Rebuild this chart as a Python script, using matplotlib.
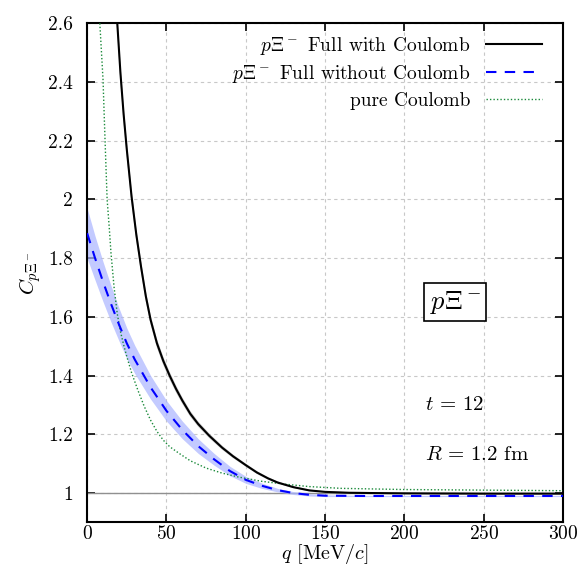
import numpy as np
import matplotlib
matplotlib.use('Agg')
import matplotlib.pyplot as plt

plt.rcParams['font.family'] = 'serif'
plt.rcParams['font.serif'] = ['cmr10', 'DejaVu Serif']
plt.rcParams['mathtext.fontset'] = 'cm'
plt.rcParams['axes.formatter.use_mathtext'] = True

''' full with Coulomb (black, grey band) '''
q_full = [15, 17, 19, 21, 23, 25, 28, 31, 34, 37, 40, 44, 48, 52, 56, 60, 65, 70, 77, 85, 92, 100,
          107, 114, 120, 130, 140, 150, 165, 180, 200, 250, 300]
c_full = [3.05, 2.80, 2.60, 2.43, 2.29, 2.17, 2.01, 1.88, 1.77, 1.67, 1.59, 1.51, 1.45, 1.40, 1.355, 1.315,
          1.27, 1.235, 1.195, 1.155, 1.125, 1.095, 1.07, 1.05, 1.036, 1.02, 1.009, 1.004, 1.001, 1.0,
          0.999, 0.998, 0.998]
w_full = [0.04, 0.037, 0.034, 0.031, 0.029, 0.027, 0.024, 0.022, 0.02, 0.018, 0.016, 0.015, 0.014, 0.013,
          0.012, 0.011, 0.01, 0.009, 0.008, 0.007, 0.006, 0.005, 0.005, 0.004, 0.004, 0.003, 0.003, 0.002,
          0.002, 0.002, 0.002, 0.002, 0.002]

''' full without Coulomb (blue dashed, blue band) '''
q_noc = [0, 5, 10, 15, 20, 25, 30, 40, 50, 60, 70, 80, 90, 100, 110, 120, 130, 140, 150, 175, 200, 250, 300]
c_noc = [1.885, 1.80, 1.72, 1.645, 1.575, 1.51, 1.455, 1.36, 1.28, 1.215, 1.16, 1.115, 1.075, 1.045, 1.025,
         1.01, 1.0, 0.994, 0.991, 0.99, 0.99, 0.99, 0.99]
w_noc = [0.085, 0.075, 0.068, 0.062, 0.056, 0.052, 0.048, 0.04, 0.035, 0.03, 0.025, 0.02, 0.016, 0.012,
         0.009, 0.006, 0.005, 0.004, 0.003, 0.002, 0.002, 0.002, 0.002]

''' pure Coulomb (green dotted) '''
q_coul = [6, 8, 10, 11.3, 12.6, 14, 15, 17, 19, 21, 23, 25, 28, 32, 36, 40, 44, 48, 52, 58, 65, 75, 85, 95,
          110, 125, 140, 160, 200, 250, 300]
c_coul = [3.0, 2.6, 2.41, 2.2, 2.0, 1.9, 1.82, 1.7, 1.61, 1.55, 1.505, 1.465, 1.41, 1.35, 1.295, 1.248,
          1.21, 1.18, 1.158, 1.135, 1.11, 1.085, 1.068, 1.055, 1.04, 1.03, 1.022, 1.016, 1.012, 1.01, 1.008]

xticks = [0, 50, 100, 150, 200, 250, 300]
yticks = [1, 1.2, 1.4, 1.6, 1.8, 2, 2.2, 2.4, 2.6]
yticklabels = ['1', '1.2', '1.4', '1.6', '1.8', '2', '2.2', '2.4', '2.6']

q_full, c_full, w_full = np.array(q_full), np.array(c_full), np.array(w_full)
q_noc, c_noc, w_noc = np.array(q_noc), np.array(c_noc), np.array(w_noc)

fig = plt.figure(figsize=(5.77, 5.66), dpi=100)
ax = fig.add_axes([0.151, 0.077, 0.825, 0.882])

ax.grid(True, color='#c8c8c8', linestyle=(0, (3, 3)), linewidth=0.8)
ax.set_axisbelow(True)
ax.axhline(1.0, color='#909090', linewidth=1.0, zorder=1)

ax.fill_between(q_full, c_full - w_full, c_full + w_full, color='#a0a0a0', alpha=0.6, linewidth=0, zorder=2)
ax.fill_between(q_noc, c_noc - w_noc, c_noc + w_noc, color='#aab4ff', alpha=0.7, linewidth=0, zorder=2)

ax.plot(q_full, c_full, color='black', linewidth=1.5, label=r'$p\Xi^-$ Full with Coulomb', zorder=4)
ax.plot(q_noc, c_noc, color='blue', linestyle=(0, (5, 4)), linewidth=1.5,
        label=r'$p\Xi^-$ Full without Coulomb', zorder=4)
ax.plot(q_coul, c_coul, color='#1a8a3a', linestyle=(0, (1, 1.5)), linewidth=1.0, label='pure Coulomb', zorder=3)

ax.set_xlim(0, 300)
ax.set_ylim(0.9, 2.6)
ax.set_xticks(xticks)
ax.set_yticks(yticks)
ax.set_yticklabels(yticklabels)
ax.tick_params(direction='in', top=True, right=True, length=6, width=1.2, labelsize=14, colors='black')
ax.tick_params(axis='x', pad=2)
ax.tick_params(axis='y', pad=10)
for s in ax.spines.values():
    s.set_linewidth(1.5)

ax.set_xlabel(r'$q$ [MeV/$c$]', fontsize=14.5, labelpad=-1)
ax.set_ylabel(r'$C_{p\Xi^-}$', fontsize=15, labelpad=4)

leg = ax.legend(loc='upper right', bbox_to_anchor=(0.98, 1.0), markerfirst=False, frameon=False,
                fontsize=14, handlelength=2.9, handletextpad=0.8, borderaxespad=0.2, labelspacing=0.33)

ax.text(232, 1.65, r'$p\Xi^-$', fontsize=19, ha='center', va='center',
        bbox=dict(boxstyle='square,pad=0.2', facecolor='white', edgecolor='black', linewidth=1.2))
ax.text(213, 1.30, r'$t\,=\,12$', fontsize=15, ha='left', va='center')
ax.text(213, 1.13, r'$R\,=\,1.2$ fm', fontsize=15, ha='left', va='center')

fig.savefig('out.png', dpi=100)
